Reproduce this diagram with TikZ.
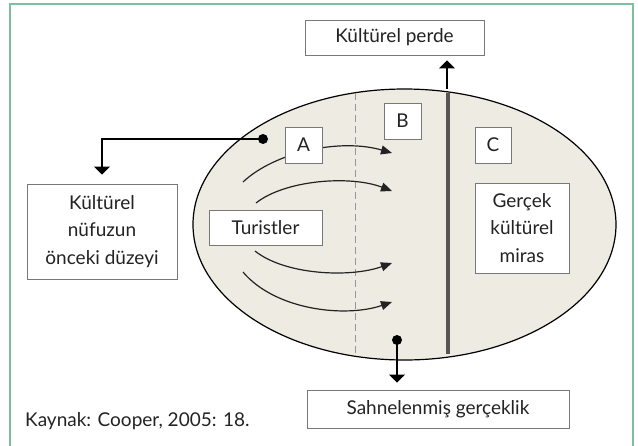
\documentclass[tikz,border=0pt]{standalone}
\usepackage{fontspec}
\setmainfont{Lato}
\usetikzlibrary{arrows.meta}

\definecolor{framegreen}{RGB}{125,192,155}
\definecolor{ovalfill}{RGB}{238,235,227}
\definecolor{boxgray}{RGB}{120,120,120}
\definecolor{inkgray}{RGB}{35,35,35}
\definecolor{wallgray}{RGB}{85,85,85}
\definecolor{dashgray}{RGB}{150,150,150}

\tikzset{
  labelbox/.style={draw=boxgray, fill=white, line width=0.8pt, text=inkgray, align=center,
    inner sep=0pt, font=\fontsize{19}{27.5}\selectfont},
  flow/.style={inkgray, line width=1.2pt, -{Triangle[length=11pt,width=9pt]}},
  pointer/.style={black, line width=1.4pt, -{Triangle[length=8pt,width=16pt]}},
  blob/.style={circle, fill=black, inner sep=0pt, minimum size=10pt},
}

\begin{document}
\begin{tikzpicture}[x=1pt,y=-1pt]
\useasboundingbox (0,0) rectangle (638,445);
\draw[framegreen, line width=1.5pt] (10,450) -- (10,4) -- (633,4) -- (633,450);

\filldraw[fill=ovalfill, draw=black, line width=1.2pt] (404.5,224.5) ellipse (211.5pt and 135.5pt);
\draw[dashgray, line width=1pt, dash pattern=on 7pt off 4pt] (355,93) -- (355,356);
\draw[wallgray, line width=3.2pt] (448,93) -- (448,354);

% arcs of the tourists
\coordinate (s1) at (243,182); \coordinate (e1) at (392,153);
\coordinate (s2) at (256,203); \coordinate (e2) at (392,191);
\coordinate (s3) at (255,251); \coordinate (e3) at (392,263);
\coordinate (s4) at (243,272); \coordinate (e4) at (392,302);
\draw[flow] (s1) .. controls (275,152) and (340,138) .. (e1);
\draw[flow] (s2) .. controls (285,180) and (350,175) .. (e2);
\draw[flow] (s3) .. controls (285,275) and (350,278) .. (e3);
\draw[flow] (s4) .. controls (275,310) and (345,318) .. (e4);

\node[labelbox, minimum width=179pt, minimum height=35pt] (perde) at (394.5,37.5) {Kültürel perde};
\node[labelbox, minimum width=37pt, minimum height=36pt] (zoneA) at (303.5,145) {A};
\node[labelbox, minimum width=37pt, minimum height=36pt] (zoneB) at (402.5,121) {B};
\node[labelbox, minimum width=36pt, minimum height=36pt] (zoneC) at (493,145) {C};
\node[labelbox, minimum width=94pt, minimum height=90pt] (miras) at (522,228) {Gerçek\\kültürel\\miras};
\node[labelbox, minimum width=113pt, minimum height=35pt] (turist) at (265.5,227.5) {Turistler};
\node[labelbox, minimum width=150pt, minimum height=95pt] (nufuz) at (102,231.5) {Kültürel\\nüfuzun\\önceki düzeyi};
\node[labelbox, minimum width=262pt, minimum height=38pt] (sahne) at (438,409) {Sahnelenmiş gerçeklik};
\node[text=inkgray, font=\fontsize{19}{22}\selectfont, anchor=west, inner sep=0pt] (kaynak) at (25,421) {Kaynak: Cooper, 2005: 18.};

\node[blob] (dotA) at (263,139) {};
\node[blob] (dotB) at (397,340) {};
\coordinate (veilfoot) at (447,89);

\draw[pointer, shorten >=9pt] (dotA.center) -| (nufuz.north);
\draw[pointer, shorten >=5pt] (veilfoot) -- (veilfoot |- perde.south);
\draw[pointer, shorten >=7pt] (dotB.center) -- (dotB |- sahne.north);

\end{tikzpicture}
\end{document}
